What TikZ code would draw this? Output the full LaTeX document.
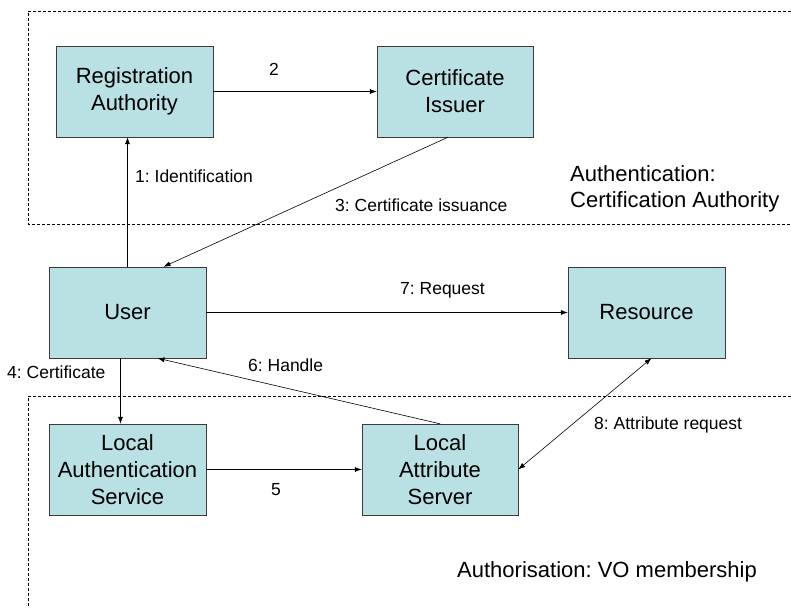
\documentclass[tikz,border=0pt]{standalone}
\usepackage{fontspec}
\setmainfont{Liberation Sans}
\usetikzlibrary{arrows.meta}
\definecolor{boxfill}{RGB}{185,224,227}
\definecolor{boxline}{RGB}{60,60,60}
\frenchspacing

\begin{document}
\begin{tikzpicture}[
        x=1pt, y=-1pt,
        box/.style={draw=boxline, fill=boxfill, rectangle, align=center, minimum width=157pt, minimum height=91pt, inner sep=0pt, font=\fontsize{22}{27}\selectfont},
        lbl/.style={anchor=west, inner sep=0pt, font=\fontsize{17.5}{21}\selectfont},
        region/.style={draw, dash pattern=on 3pt off 2pt, line width=0.6pt},
        link/.style={-{Latex[length=7pt,width=5pt]}, line width=0.6pt}
    ]
    \useasboundingbox (0,0) rectangle (791,607);
    % regions
    \draw [region] (791,11) -- (28,11) -- (28,224) -- (791,224);
    \draw [region] (791,396) -- (28,396) -- (28,607);

    \node [box] (ra) at (134.5,91.5) {Registration\\Authority};
    \node [box, minimum width=156pt] (ci) at (455,91.5) {Certificate\\Issuer};
    \node [box] (user) at (127.5,312.5) {User};
    \node [box] (res) at (646.5,312.5) {Resource};
    \node [box] (las) at (127.5,469.5) {Local\\Authentication\\Service};
    \node [box, minimum width=156pt] (lats) at (440,469.5) {Local\\Attribute\\Server};

    \draw [link] (ra) -- (ci);
    \draw [link] (user.north) -- (user.north |- ra.south);
    \draw [link] ([xshift=-7pt]ci.south) -- ([xshift=36pt]user.north);
    \draw [link] (user) -- (res);
    \draw [link] ([xshift=-7pt]user.south) -- ([xshift=-7pt]las.north);
    \draw [link] (las) -- (lats);
    \draw [link] (lats.north) -- ([xshift=30pt]user.south);
    \draw [link, {Latex[length=7pt,width=5pt]}-{Latex[length=7pt,width=5pt]}] (lats.east) -- ([xshift=5pt]res.south);

    \node [lbl, anchor=center] (l2) at (274,69) {2};
    \node [lbl] (l1) at (135,176) {1: Identification};
    \node [lbl] (l3) at (335,205) {3: Certificate issuance};
    \node [lbl] (l7) at (400,290) {7: Request};
    \node [lbl] (l4) at (7,372) {4: Certificate};
    \node [lbl] (l6) at (248,365) {6: Handle};
    \node [lbl, anchor=center] (l5) at (276,490) {5};
    \node [lbl] (l8) at (594,425) {8: Attribute request};

    \node [lbl, align=left, font=\fontsize{22}{26}\selectfont] (authn) at (570,189) {Authentication:\\Certification Authority};
    \node [lbl, font=\fontsize{22}{26}\selectfont] (authz) at (457,572) {Authorisation: VO membership};
\end{tikzpicture}
\end{document}
